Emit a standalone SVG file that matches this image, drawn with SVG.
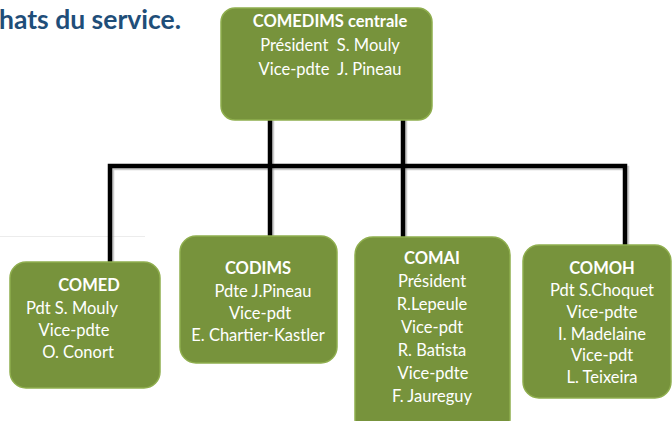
<svg xmlns="http://www.w3.org/2000/svg" width="672" height="421" viewBox="0 0 672 421">
<defs>
<style>
.box{fill:#77933C;stroke:#8FAE4E;stroke-width:1.5}
.t{font-family:Lato,"Liberation Sans",sans-serif;font-size:16.5px;fill:#FFFFFF;text-anchor:middle;white-space:pre}
.b{font-weight:bold}
.ln{fill:none;stroke:#000;stroke-width:4.5;stroke-linejoin:miter}
.sh{fill:none;stroke:#9a9a9a;stroke-width:4.5;opacity:0.5}
</style>
</defs>
<rect width="672" height="421" fill="#fff"/>
<line x1="0" y1="236.5" x2="145" y2="236.5" stroke="#ececec" stroke-width="1"/>
<text x="-1" y="29" font-family="Lato,'Liberation Sans',sans-serif" font-size="26.5" font-weight="bold" fill="#1F4E79">hats du service.</text>
<g id="connectors">
<path class="sh" d="M112 264 V168 H627 V247"/>
<path class="sh" d="M272 120 V238 M405 120 V239"/>
<path class="ln" d="M110 263 V166 H625 V246"/>
<path class="ln" d="M270 119 V237 M403 119 V238"/>
</g>
<g id="comedims">
<rect class="box" x="221" y="8" width="211" height="112" rx="14"/>
<text class="t b" x="330" y="27">COMEDIMS centrale</text>
<text class="t" x="330" y="51">Président  S. Mouly</text>
<text class="t" x="330" y="75">Vice-pdte  J. Pineau</text>
</g>
<g id="comed">
<rect class="box" x="10" y="262" width="150" height="126" rx="16"/>
<text class="t b" x="89" y="291">COMED</text>
<text class="t" x="72" y="314">Pdt S. Mouly</text>
<text class="t" x="74" y="336">Vice-pdte</text>
<text class="t" x="78" y="358">O. Conort</text>
</g>
<g id="codims">
<rect class="box" x="180" y="236" width="157" height="127" rx="16"/>
<text class="t b" x="258" y="274">CODIMS</text>
<text class="t" x="263" y="297">Pdte J.Pineau</text>
<text class="t" x="260" y="319">Vice-pdt</text>
<text class="t" x="258" y="341">E. Chartier-Kastler</text>
</g>
<g id="comai">
<rect class="box" x="355" y="237" width="155" height="200" rx="18"/>
<text class="t b" x="432" y="264">COMAI</text>
<text class="t" x="432" y="287">Président</text>
<text class="t" x="432" y="310">R.Lepeule</text>
<text class="t" x="432" y="333">Vice-pdt</text>
<text class="t" x="432" y="356">R. Batista</text>
<text class="t" x="433" y="379">Vice-pdte</text>
<text class="t" x="432" y="402">F. Jaureguy</text>
</g>
<g id="comoh">
<rect class="box" x="523" y="245" width="148" height="153" rx="16"/>
<text class="t b" x="602" y="274">COMOH</text>
<text class="t" x="602" y="296">Pdt S.Choquet</text>
<text class="t" x="602" y="318">Vice-pdte</text>
<text class="t" x="602" y="340">I. Madelaine</text>
<text class="t" x="602" y="361">Vice-pdt</text>
<text class="t" x="602" y="383">L. Teixeira</text>
</g>
</svg>
